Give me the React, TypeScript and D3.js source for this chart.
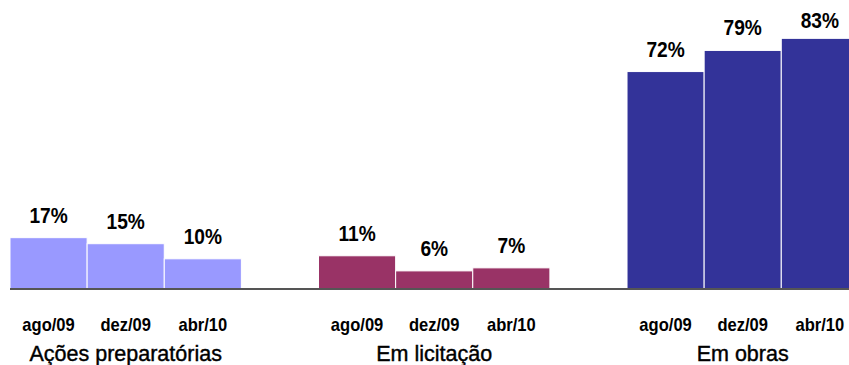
import React from "react";
import * as d3 from "d3";

const groups = ["Ações preparatórias", "Em licitação", "Em obras"];
const periods = ["ago/09", "dez/09", "abr/10"];
const acoesPreparatorias = [17, 15, 10];
const emLicitacao = [11, 6, 7];
const emObras = [72, 79, 83];
const seriesByGroup = [acoesPreparatorias, emLicitacao, emObras];
const groupColors = ["#9999FF", "#993366", "#333399"];

const W = 849;
const H = 365;
const baseY = 289;
const font = "'Liberation Sans', Arial, sans-serif";

export default function App() {
  const x0 = d3
    .scaleBand<string>()
    .domain(groups)
    .range([10, 858.4])
    .paddingInner(0.25)
    .paddingOuter(0);
  const x1 = d3
    .scaleBand<string>()
    .domain(periods)
    .range([0, x0.bandwidth()])
    .padding(0);
  const y = d3.scaleLinear().domain([0, 100]).range([baseY, baseY - 302]);

  return (
    <svg
      width={W}
      height={H}
      style={{ position: "absolute", left: 0, top: 0, background: "#fff" }}
      fontFamily={font}
    >
      {groups.map((g, gi) => {
        const gx = x0(g) as number;
        return (
          <g key={g}>
            {seriesByGroup[gi].map((v, i) => {
              const bx = gx + (x1(periods[i]) as number);
              const cx = bx + x1.bandwidth() / 2;
              const top = y(v);
              const ly = Math.max(top - 15, 28);
              return (
                <g key={periods[i]}>
                  <rect
                    x={bx}
                    y={top}
                    width={x1.bandwidth()}
                    height={baseY - top}
                    fill={groupColors[gi]}
                    stroke="#fff"
                    strokeWidth={1}
                  />
                  <text
                    transform={`translate(${cx},${ly}) scale(0.87,1)`}
                    textAnchor="middle"
                    fontSize={22}
                    fontWeight="bold"
                    fill="#000"
                  >
                    {v}%
                  </text>
                  <text
                    transform={`translate(${cx},331) scale(0.92,1)`}
                    textAnchor="middle"
                    fontSize={18}
                    fontWeight="bold"
                    fill="#000"
                  >
                    {periods[i]}
                  </text>
                </g>
              );
            })}
            <text
              x={gx + x0.bandwidth() / 2}
              y={361}
              textAnchor="middle"
              fontSize={21.5}
              fill="#000"
              stroke="#000"
              strokeWidth={0.4}
            >
              {g}
            </text>
          </g>
        );
      })}
      <line x1={10} x2={W} y1={baseY} y2={baseY} stroke="#555" strokeWidth={2} />
    </svg>
  );
}
